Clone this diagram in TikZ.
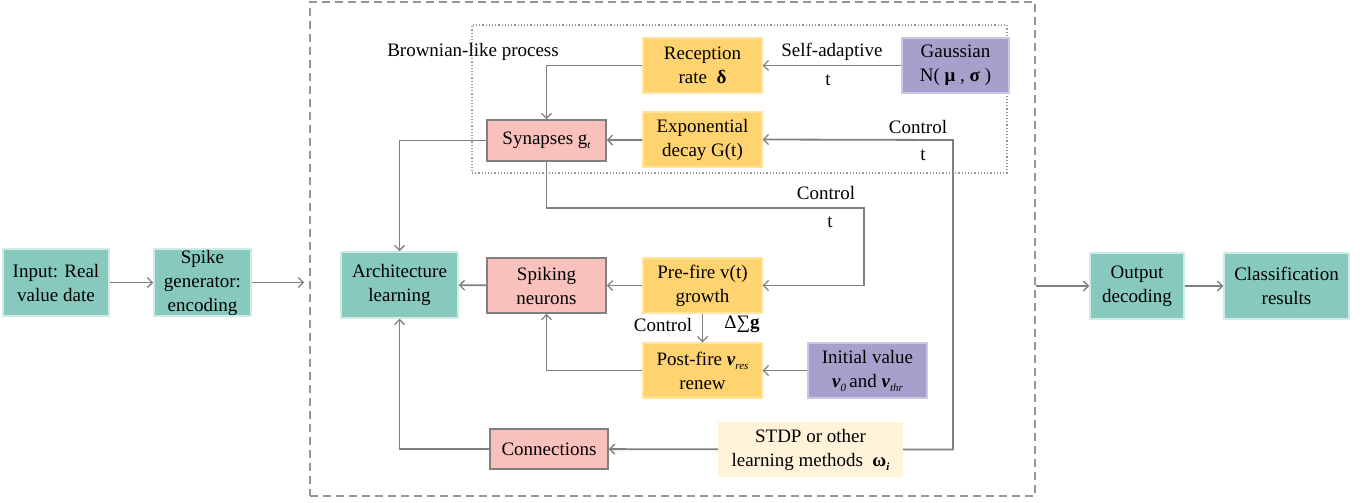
\documentclass[tikz,border=0pt]{standalone}
\usepackage{fontspec}
\setmainfont{Liberation Serif}
\usetikzlibrary{arrows.meta, positioning}
\definecolor{TealFill}{RGB}{136, 201, 190}
\definecolor{TealEdge}{RGB}{208, 236, 231}
\definecolor{RoseFill}{RGB}{248, 193, 187}
\definecolor{RoseEdge}{RGB}{128, 128, 128}
\definecolor{AmberFill}{RGB}{255, 211, 112}
\definecolor{AmberEdge}{RGB}{255, 228, 160}
\definecolor{LilacFill}{RGB}{168, 160, 204}
\definecolor{LilacEdge}{RGB}{204, 199, 228}
\definecolor{CreamFill}{RGB}{255, 243, 218}
\definecolor{WireGrey}{RGB}{128, 128, 128}
\definecolor{FrameGrey}{RGB}{150, 150, 150}
% small lowered index, italic
\newcommand{\lowidx}[1]{\raisebox{-4pt}{\fontsize{11}{11}\selectfont\itshape #1}}

\begin{document}
\begin{tikzpicture}[x=1pt, y=-1pt,
    every node/.style={font=\fontsize{19}{24}\selectfont, align=center, inner sep=0pt},
    tealbox/.style={fill=TealFill, draw=TealEdge, line width=1.5pt},
    rosebox/.style={fill=RoseFill, draw=RoseEdge, line width=1.6pt},
    amberbox/.style={fill=AmberFill, draw=AmberEdge, line width=1.2pt},
    lilacbox/.style={fill=LilacFill, draw=LilacEdge, line width=1.2pt},
    creambox/.style={fill=CreamFill},
    flow/.style={draw=WireGrey, line width=1.8pt, -{Straight Barb[length=5pt, width=10pt, line width=1.3pt]}},
]
    \useasboundingbox (0,0) rectangle (1369,503);

    % Frames
    \node[draw=FrameGrey, dashed, dash pattern=on 8pt off 5pt, line width=1.6pt,
          minimum width=725pt, minimum height=494pt] (core) at (672.5,249) {};
    \node[draw=FrameGrey, dotted, line width=1.2pt,
          minimum width=535pt, minimum height=148pt] (brown) at (739.5,99) {};
    \node (brownlbl) at (473,52) {Brownian-like process};

    % Encoding and decoding
    \node[tealbox, minimum width=106pt, minimum height=67pt] (input) at (56,282.5) {Input: Real\\value date};
    \node[tealbox, minimum width=97pt, minimum height=67pt] (gen) at (202.5,282.5) {Spike\\generator:\\encoding};
    \node[tealbox, minimum width=94pt, minimum height=66pt] (output) at (1137,286) {Output\\decoding};
    \node[tealbox, minimum width=125pt, minimum height=66pt] (result) at (1286.5,286) {Classification\\results};

    % Network core
    \node[tealbox, minimum width=117pt, minimum height=66pt] (arch) at (399.5,285) {Architecture\\learning};
    \node[rosebox, minimum width=119pt, minimum height=41pt] (syn) at (546.5,140.5) {Synapses g\lowidx{t}};
    \node[rosebox, minimum width=119pt, minimum height=55pt] (spiking) at (546.5,285.5) {Spiking\\neurons};
    \node[rosebox, minimum width=118pt, minimum height=40pt] (conn) at (549,449) {Connections};
    \node[amberbox, minimum width=119pt, minimum height=55pt] (recep) at (702.5,65.5) {Reception\\rate~~\textbf{δ}};
    \node[amberbox, minimum width=119pt, minimum height=55pt] (expo) at (702.5,139.5) {Exponential\\decay G(t)};
    \node[amberbox, minimum width=119pt, minimum height=55pt] (pre) at (702.5,285.5) {Pre-fire v(t)\\growth};
    \node[amberbox, minimum width=119pt, minimum height=55pt] (post) at (702.5,370.5) {Post-fire \textbf{\textit{v}}\lowidx{res}\\renew};
    \node[lilacbox, minimum width=107pt, minimum height=55pt] (gauss) at (955.5,65.5) {Gaussian\\N( \textbf{μ} , \textbf{σ} )};
    \node[lilacbox, minimum width=119pt, minimum height=55pt] (init) at (867.5,370.5) {Initial value\\\textbf{\textit{v}}\lowidx{0}\,and \textbf{\textit{v}}\lowidx{thr}};
    \node[creambox, minimum width=185pt, minimum height=55pt] (stdp) at (810.5,449.5) {STDP or other\\learning methods~~\textbf{ω}\lowidx{\bfseries i}};

    % Corners of the feedback wires
    \coordinate (fbcorner) at (953,140);
    \coordinate (loopcorner) at (864,208);

    % Outer chain
    \draw[flow] (input) -- (gen);
    \draw[flow, shorten >=5pt] (gen) -- (gen -| core.west);
    \draw[flow] (core.east |- output) -- (output);
    \draw[flow] (output) -- (result);

    % Brownian-like part
    \draw[flow] (gauss) -- (recep);
    \node (adapt) at (832,52) {Self-adaptive};
    \node (adaptt) at (828,80) {t};
    \draw[flow] (recep.west) -| (syn.north);
    \draw[flow] (expo) -- (syn);
    \draw[flow] (stdp.east) -| (fbcorner) -- (expo.east);
    \node (ctrlA) at (918,127) {Control};
    \node (ctrlAt) at (923,155) {t};

    % Neuron dynamics
    \draw[flow] (syn.south) |- (loopcorner) |- (pre.east);
    \node (ctrlB) at (826,193) {Control};
    \node (ctrlBt) at (830,222) {t};
    \draw[flow] (pre) -- (spiking);
    \draw[flow] (spiking) -- (arch);
    \draw[flow] (pre) -- (post);
    \node (ctrlC) at (663,325) {Control};
    \node (dsum) at (742,324) {Δ∑\textbf{g}};
    \draw[flow] (init) -- (post);
    \draw[flow] (post.west) -| (spiking.south);

    % Learning of the architecture
    \draw[flow] (syn.west) -| (arch.north);
    \draw[flow] (stdp) -- (conn);
    \draw[flow] (conn.west) -| (arch.south);
\end{tikzpicture}
\end{document}
